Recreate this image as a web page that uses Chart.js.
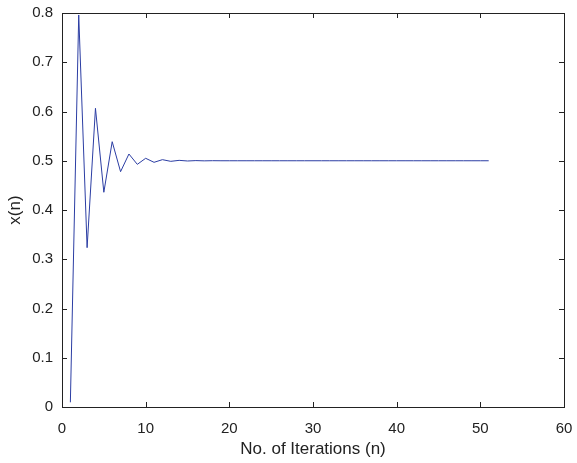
<!DOCTYPE html>
<html>
<head>
<meta charset="utf-8">
<script src="https://cdn.jsdelivr.net/npm/chart.js@4/dist/chart.umd.min.js"></script>
<style>
  html, body { margin: 0; padding: 0; background: #fff; }
  #wrap { width: 577px; height: 463px; }
</style>
</head>
<body>
<div id="wrap"><canvas id="chart"></canvas></div>
<script>
// data
const iterations = [
  1, 2, 3, 4, 5, 6, 7, 8, 9, 10,
  11, 12, 13, 14, 15, 16, 17, 18, 19, 20,
  21, 22, 23, 24, 25, 26, 27, 28, 29, 30,
  31, 32, 33, 34, 35, 36, 37, 38, 39, 40,
  41, 42, 43, 44, 45, 46, 47, 48, 49, 50, 51
];
const xValues = [
  0.0095, 0.796, 0.3235, 0.6065, 0.436, 0.5387, 0.4778, 0.5137, 0.4927, 0.505,
  0.4968, 0.5022, 0.4988, 0.5008, 0.4995, 0.5003, 0.4998, 0.5001, 0.5, 0.5,
  0.5, 0.5, 0.5, 0.5, 0.5, 0.5, 0.5, 0.5, 0.5, 0.5,
  0.5, 0.5, 0.5, 0.5, 0.5, 0.5, 0.5, 0.5, 0.5, 0.5,
  0.5, 0.5, 0.5, 0.5, 0.5, 0.5, 0.5, 0.5, 0.5, 0.5, 0.5
];
const xTicks = [0, 10, 20, 30, 40, 50, 60];
const yTicks = [0, 0.1, 0.2, 0.3, 0.4, 0.5, 0.6, 0.7, 0.8];

const FONT = "'Liberation Sans', Arial, Helvetica, sans-serif";
const INK = "#222";

// box around plot + inward ticks on all four sides
const boxPlugin = {
  id: "box",
  afterDraw(chart) {
    const { ctx, chartArea: a, scales } = chart;
    const tl = 5;
    ctx.save();
    ctx.strokeStyle = INK;
    ctx.lineWidth = 1;
    ctx.strokeRect(Math.round(a.left) + 0.5, Math.round(a.top) + 0.5,
      Math.round(a.right - a.left), Math.round(a.bottom - a.top));
    ctx.beginPath();
    xTicks.forEach(v => {
      const px = Math.round(scales.x.getPixelForValue(v)) + 0.5;
      ctx.moveTo(px, a.bottom); ctx.lineTo(px, a.bottom - tl);
      ctx.moveTo(px, a.top); ctx.lineTo(px, a.top + tl);
    });
    yTicks.forEach(v => {
      const py = Math.round(scales.y.getPixelForValue(v)) + 0.5;
      ctx.moveTo(a.left, py); ctx.lineTo(a.left + tl, py);
      ctx.moveTo(a.right, py); ctx.lineTo(a.right - tl, py);
    });
    ctx.stroke();
    ctx.restore();
  }
};

const ctx = document.getElementById("chart");

new Chart(ctx, {
  type: "scatter",
  data: {
    datasets: [
      {
        data: iterations.map((n, i) => ({ x: n, y: xValues[i] })),
        showLine: true,
        borderColor: "#2b3da3",
        borderWidth: 1,
        pointRadius: 0,
        tension: 0,
      },
    ],
  },
  options: {
    responsive: true,
    maintainAspectRatio: false,
    animation: false,
    layout: { padding: { top: 13, right: 13, left: 0, bottom: 0 } },
    plugins: { legend: { display: false }, tooltip: { enabled: false } },
    scales: {
      x: {
        type: "linear",
        min: 0,
        max: 60,
        grid: { display: false, drawTicks: false },
        border: { display: false },
        afterBuildTicks: s => { s.ticks = xTicks.map(v => ({ value: v })); },
        ticks: {
          padding: 13,
          color: INK,
          font: { family: FONT, size: 15 },
          maxRotation: 0,
        },
        title: {
          display: true,
          text: "No. of Iterations (n)",
          color: INK,
          font: { family: FONT, size: 17 },
          padding: { top: 0, bottom: 3 },
        },
        afterFit: s => {
          s.height = 56;
          s.paddingLeft = 0; s.paddingRight = 0;
        },
      },
      y: {
        type: "linear",
        min: 0,
        max: 0.8,
        grid: { display: false, drawTicks: false },
        border: { display: false },
        afterBuildTicks: s => { s.ticks = yTicks.map(v => ({ value: v })); },
        ticks: {
          padding: 9,
          color: INK,
          font: { family: FONT, size: 15 },
          callback: v => String(Math.round(v * 10) / 10),
        },
        title: {
          display: true,
          text: "x(n)",
          color: INK,
          font: { family: FONT, size: 17 },
          padding: { top: 5, bottom: 0 },
        },
        afterFit: s => {
          s.width = 62;
          s.paddingTop = 0; s.paddingBottom = 0;
        },
      },
    },
  },
  plugins: [boxPlugin],
});
</script>
</body>
</html>
